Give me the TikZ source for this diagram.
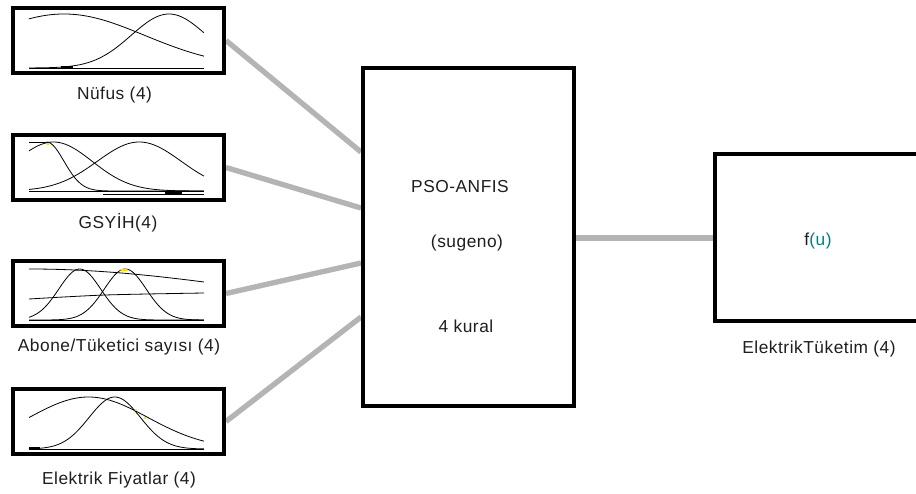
\documentclass[tikz,border=0pt]{standalone}
\usepackage{fontspec}
\setmainfont{Liberation Sans}[LetterSpace=3]
\usetikzlibrary{calc}
\definecolor{connc}{RGB}{180,180,180}
\definecolor{txt}{RGB}{30,30,30}
\definecolor{tealu}{RGB}{0,128,128}
\pgfdeclarelayer{background}
\pgfsetlayers{background,main}
\newcommand\gmf[4]{%
  \draw[mf] plot[domain=0:1,samples=90,smooth] ({29+175*\x},{#1-#2*exp(-((\x-#3)^2)/#4)});}
\begin{document}
\begin{tikzpicture}[x=0.75pt,y=-0.75pt,
  box/.style={draw=black, line width=3pt, fill=white, rectangle, inner sep=0pt},
  inbox/.style={box, minimum width=158.25pt, minimum height=48.75pt},
  conn/.style={draw=connc, line width=4pt},
  lbl/.style={font=\fontsize{13}{15}\selectfont, text=txt, anchor=base, inner sep=0pt},
  mf/.style={line width=0.6pt, black}]
\useasboundingbox (0,0) rectangle (916,493);
\clip (0,0) rectangle (916,493);

% boxes
\node[inbox] (b1) at (118.5,40.5) {};
\node[inbox] (b2) at (118.5,167.5) {};
\node[inbox] (b3) at (118.5,293.5) {};
\node[inbox] (b4) at (118.5,421.5) {};
\node[box, minimum width=158.25pt, minimum height=253.5pt] (anfis) at (468.5,237) {};
\node[box, minimum width=157.5pt, minimum height=125.25pt] (out) at (820,237.5) {};

% connectors
\begin{pgfonlayer}{background}
\draw[conn] (b1.east) -- (anfis.west |- 0,152);
\draw[conn] (b2.east) -- (anfis.west |- 0,208);
\draw[conn] (b3.east) -- (anfis.west |- 0,263);
\draw[conn] (b4.east) -- (anfis.west |- 0,317);
\draw[conn] (anfis.east |- 0,238) -- (out.west |- 0,238);
\end{pgfonlayer}

% membership functions: box 1
\draw[mf] (29,68) -- (204,68);
\draw[line width=1.6pt] (61,67.5) -- (73,67.5);
\gmf{68}{54}{0.2}{0.422}
\gmf{68}{54}{0.8}{0.093}

% box 2
\draw[mf] (29,191) -- (204,191);
\draw[mf] (103,194) -- (204,194);
\draw[line width=1.6pt] (165,192.5) -- (182,192.5);
\gmf{191}{49}{0.14}{0.0975}
\draw[mf] (29,142) -- (46.5,142);
\draw[mf] plot[domain=0.1:1,samples=80,smooth] ({29+175*\x},{191-49*exp(-((\x-0.1)^2)/0.02)});
\gmf{191}{49}{0.63}{0.115}
\fill[yellow!80!orange] (48,144) circle (1.5);

% box 3
\draw[mf] (29,320) -- (204,320);
\gmf{320}{51}{0}{3.4}
\draw[mf] plot[smooth] coordinates {(29,299) (105,295) (204,293)};
\gmf{320}{51}{0.29}{0.0287}
\gmf{320}{51}{0.55}{0.0287}
\fill[yellow!80!orange] (124,270) ellipse (4 and 1.5);

% box 4
\draw[mf] (29,449) -- (204,449);
\draw[line width=1.6pt] (29,448.5) -- (40,448.5);
\gmf{449}{52}{0.34}{0.23}
\gmf{449}{52}{0.49}{0.043}
\fill[yellow!80!orange] (136,410) circle (1.2);
\fill[yellow!80!orange] (145,418) circle (1.2);

% labels
\node[lbl] (l1) at (114.5,99) {Nüfus (4)};
\node[lbl] (l2) at (118,228) {GSYİH(4)};
\node[lbl] (l3) at (119,351) {Abone/Tüketici sayısı (4)};
\node[lbl] (l4) at (119,484) {Elektrik Fiyatlar (4)};
\node[lbl] (t1) at (460,192) {PSO-ANFIS};
\node[lbl] (t2) at (467,247) {(sugeno)};
\node[lbl] (t3) at (466,332) {4 kural};
\node[lbl] (fu) at (818,245) {f\textcolor{tealu}{(u)}};
\node[lbl] (l5) at (819,353) {ElektrikTüketim (4)};
\end{tikzpicture}
\end{document}
